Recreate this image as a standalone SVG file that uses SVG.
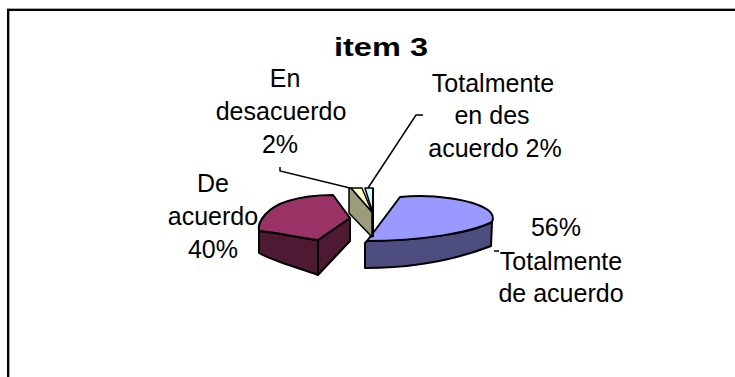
<svg xmlns="http://www.w3.org/2000/svg" width="735" height="377" viewBox="0 0 735 377">
<style>
.t{font-family:"Liberation Sans",Arial,sans-serif;font-size:25px;fill:#000;text-anchor:middle}
.ttl{font-family:"Liberation Sans",Arial,sans-serif;font-size:26px;font-weight:bold;fill:#000;text-anchor:middle}
.e{stroke:#000;stroke-width:2;stroke-linejoin:round}
.s{stroke:#000;stroke-width:1.5;stroke-linejoin:round}
.ld{fill:none;stroke:#000;stroke-width:1.5}
</style>
<rect x="0" y="0" width="735" height="377" fill="#fff"/>
<line x1="7" y1="8.5" x2="735" y2="8.5" stroke="#a6a6a6" stroke-width="1"/>
<line x1="9.5" y1="11" x2="9.5" y2="377" stroke="#a6a6a6" stroke-width="1"/>
<rect x="8" y="10" width="740" height="380" fill="none" stroke="#000" stroke-width="2"/>
<text class="ttl" x="381" y="56" textLength="94" lengthAdjust="spacingAndGlyphs">item 3</text>
<g id="slice-totalmente-de-acuerdo">
<path class="e" fill="#4d4d80" d="M367,241 C420,241 470,233 492,222 L491,246 C460,258 420,268 365,268 L365,243 Z"/>
<path class="e" fill="#9999ff" d="M367,241 L400,197 C432,194 472,199 488,210 Q495,215 492,222 C470,233 420,241 367,241 Z"/>
</g>
<g id="slice-de-acuerdo">
<path class="e" fill="#4d1933" d="M259,231 C275,232 300,238 318,240 L318,275 C300,268 275,262 259,253 Z"/>
<path class="e" fill="#4d1933" d="M318,240 L350,218 L350,241 L318,275 Z"/>
<path class="e" fill="#993366" d="M259,231 C257,221 268,207 288,201 C304,196 320,195 333,195 L350,218 L318,240 C300,238 275,232 259,231 Z"/>
</g>
<g id="slice-en-desacuerdo">
<path class="s" fill="#9c9c7c" d="M349,188 L351,188 L372,212 L372,237 L349,213 Z"/>
<path class="s" fill="#ffffcc" d="M351,188 L362,188 L372,212 Z"/>
</g>
<g id="slice-totalmente-en-desacuerdo">
<path class="s" fill="#ccffff" d="M365,188 L373,188 L372.5,212 Z"/>
<line class="e" x1="373" y1="188" x2="373" y2="237"/>
</g>
<g id="connectors">
<polyline class="ld" points="280,167 280,171 350,188"/>
<polyline class="ld" points="423,115 416,115 368,188"/>
<line class="ld" x1="494" y1="251" x2="499" y2="251"/>
</g>
<g id="label-en-desacuerdo">
<text class="t" x="285" y="87">En</text>
<text class="t" x="281" y="120">desacuerdo</text>
<text class="t" x="280" y="153">2%</text>
</g>
<g id="label-totalmente-en-desacuerdo">
<text class="t" x="493" y="92">Totalmente</text>
<text class="t" x="492" y="124">en des</text>
<text class="t" x="495" y="157">acuerdo 2%</text>
</g>
<g id="label-de-acuerdo">
<text class="t" x="213" y="192">De</text>
<text class="t" x="213" y="225">acuerdo</text>
<text class="t" x="213" y="258">40%</text>
</g>
<g id="label-totalmente-de-acuerdo">
<text class="t" x="556" y="236">56%</text>
<text class="t" x="561" y="270">Totalmente</text>
<text class="t" x="561" y="302">de acuerdo</text>
</g>
</svg>
